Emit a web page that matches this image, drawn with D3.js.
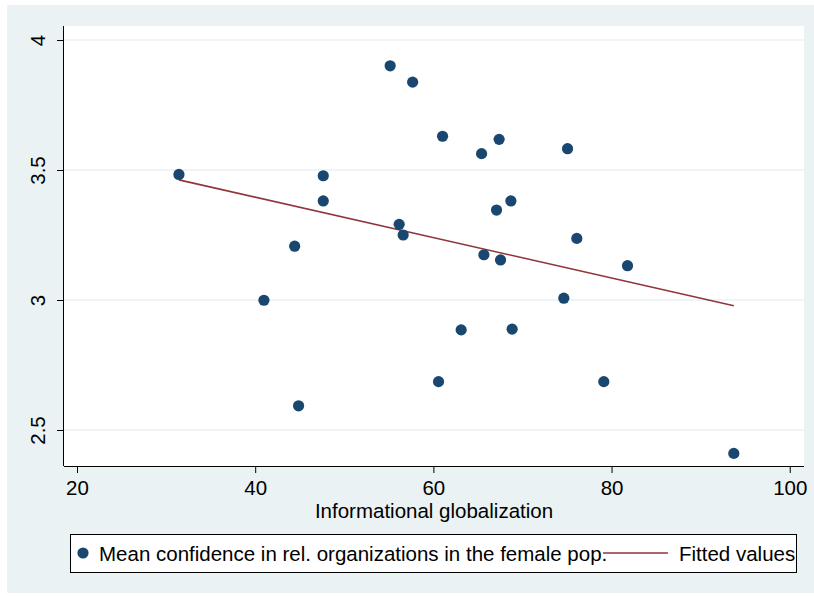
<!DOCTYPE html>
<html>
<head>
<meta charset="utf-8">
<script src="https://cdn.jsdelivr.net/npm/d3@7"></script>
<style>
  body { margin: 0; background: #fff; }
  text { font-family: "Liberation Sans", Arial, Helvetica, sans-serif; fill: #000; }
</style>
</head>
<body>
<div id="chart"></div>
<script>
// informational globalization vs mean confidence (female pop.)
var globalization = [31.44, 40.98, 44.43, 44.87, 47.64, 47.64, 55.15, 56.16, 56.61, 57.67,
  60.58, 61.03, 63.12, 65.41, 65.67, 67.09, 67.38, 67.54, 68.70, 68.84,
  74.64, 75.06, 76.10, 79.13, 81.79, 93.72]
var confidence = [3.483, 2.999, 3.207, 2.593, 3.478, 3.381, 3.901, 3.291, 3.250, 3.838,
  2.686, 3.630, 2.885, 3.563, 3.174, 3.346, 3.618, 3.154, 3.381, 2.888,
  3.007, 3.582, 3.237, 2.686, 3.132, 2.410]
// fitted values at the ends of the data range
var fittedX = [31.44, 93.72]
var fittedY = [3.462, 2.978]

var xTicks = [20, 40, 60, 80, 100]
var yTicks = [2.5, 3, 3.5, 4]
var legendLabels = ["Mean confidence in rel. organizations in the female pop.", "Fitted values"]

var width = 814, height = 596
var plot = {left: 64, right: 804, top: 26, bottom: 466}
var dotColor = "#1a476f", lineColor = "#90353b", bg = "#eaf2f3"
var fs = 20.5

var svg = d3.select("#chart").append("svg")
  .attr("width", width)
  .attr("height", height)

svg.append("rect")
  .attr("x", 7).attr("y", 5)
  .attr("width", width - 7).attr("height", 588)
  .attr("fill", bg)

svg.append("rect")
  .attr("x", plot.left).attr("y", plot.top)
  .attr("width", plot.right - plot.left).attr("height", plot.bottom - plot.top)
  .attr("fill", "#fff")

var x = d3.scaleLinear().domain([18.54, 101.6]).range([plot.left, plot.right])
var y = d3.scaleLinear().domain([2.3615, 4.054]).range([plot.bottom, plot.top])

// grid
svg.append("g")
  .selectAll("line")
  .data(yTicks)
  .join("line")
    .attr("x1", plot.left).attr("x2", plot.right)
    .attr("y1", d => y(d)).attr("y2", d => y(d))
    .attr("stroke", bg)
    .attr("stroke-width", 1.5)

// axes
var gx = svg.append("g")
  .attr("transform", `translate(0,${plot.bottom})`)
  .call(d3.axisBottom(x).tickValues(xTicks).tickSize(7).tickFormat(d3.format("d")))
gx.select(".domain").attr("d", `M${plot.left},0.5H${plot.right}`).attr("stroke", "#000")
gx.selectAll(".tick text")
  .attr("font-size", fs)
  .attr("y", 29).attr("dy", null)

var gy = svg.append("g")
  .attr("transform", `translate(${plot.left},0)`)
  .call(d3.axisLeft(y).tickValues(yTicks).tickSize(7).tickFormat(d => d))
gy.select(".domain").attr("d", `M-0.5,${plot.top}V${plot.bottom}`).attr("stroke", "#000")
gy.selectAll(".tick text")
  .attr("font-size", fs)
  .attr("text-anchor", "middle")
  .attr("x", null).attr("dy", null)
  .attr("transform", "translate(-19,0) rotate(-90)")

svg.selectAll(".tick line").attr("stroke", "#000")
svg.selectAll(".tick text").style("font-family", null)
gx.attr("font-family", null)
gy.attr("font-family", null)

svg.append("text")
  .attr("x", (plot.left + plot.right) / 2)
  .attr("y", 518)
  .attr("text-anchor", "middle")
  .attr("font-size", fs)
  .text("Informational globalization")

// fitted line
svg.append("line")
  .attr("x1", x(fittedX[0])).attr("y1", y(fittedY[0]))
  .attr("x2", x(fittedX[1])).attr("y2", y(fittedY[1]))
  .attr("stroke", lineColor)
  .attr("stroke-width", 1.6)

// points
svg.append("g")
  .selectAll("circle")
  .data(d3.zip(globalization, confidence))
  .join("circle")
    .attr("cx", d => x(d[0]))
    .attr("cy", d => y(d[1]))
    .attr("r", 5.6)
    .attr("fill", dotColor)

// legend
var lg = svg.append("g")
lg.append("rect")
  .attr("x", 70.5).attr("y", 534.5)
  .attr("width", 726).attr("height", 38)
  .attr("fill", "#fff").attr("stroke", "#000").attr("stroke-width", 1)
lg.append("circle")
  .attr("cx", 83).attr("cy", 553).attr("r", 5.6).attr("fill", dotColor)
lg.append("text")
  .attr("x", 99).attr("y", 561).attr("font-size", fs)
  .text(legendLabels[0])
lg.append("line")
  .attr("x1", 603).attr("x2", 668).attr("y1", 553).attr("y2", 553)
  .attr("stroke", lineColor).attr("stroke-width", 1.6)
lg.append("text")
  .attr("x", 679).attr("y", 561).attr("font-size", fs)
  .text(legendLabels[1])
</script>
</body>
</html>
